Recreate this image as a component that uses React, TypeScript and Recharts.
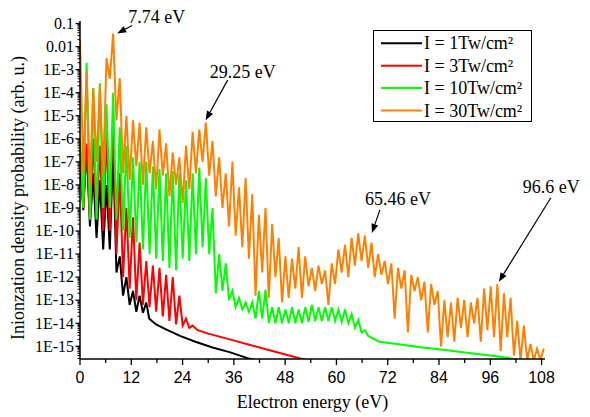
import { LineChart, Line, XAxis, YAxis, Legend, ReferenceDot } from 'recharts'

const serif = '"Liberation Serif", "Times New Roman", serif'
const sans = '"Liberation Sans", Arial, sans-serif'

// energy grid: half a photon period (1.55 eV / 2)
const energyStep = 0.775

// log10 of the probability, one value per grid point (peak, trough, peak, ...)
const blackLog = [
  -7.0, -9.1, -6.3, -9.8, -7.5, -10.3, -7.8, -10.8, -8.0, -10.8, -6.5, -11.8, -11.1, -12.8, -12.0, -13.2,
  -12.6, -13.5, -12.8, -13.55, -13.1,
]
const blackTail = [
  [16.2, -13.8], [17.8, -14.05], [20, -14.25], [23.4, -14.55], [27, -14.8], [31, -15.05], [35, -15.25],
  [39, -15.5], [41, -15.6],
]

const redLog = [
  -6.5, -9.0, -6.2, -9.5, -6.0, -9.5, -6.3, -10.0, -5.8, -10.0, -5.0, -11.0, -7.5, -12.0, -9.0, -12.5,
  -9.4, -13.0, -10.5, -13.2, -11.3, -13.3, -11.5, -13.5, -11.6, -13.7, -11.9, -13.9, -12.0, -14.05, -12.8,
  -14.1, -13.8, -14.2, -14.1,
]
const redTail = [
  [27.5, -14.3], [30, -14.45], [35, -14.7], [40, -14.95], [45, -15.2], [50, -15.45], [53, -15.6],
]

const greenLog = [
  -6.0, -9.0, -2.7, -9.5, -3.8, -9.5, -3.6, -9.0, -4.5, -9.0, -4.0, -9.5, -5.5, -10.0, -6.3, -10.3,
  -6.8, -10.5, -7.0, -10.8, -7.0, -11.0, -7.2, -11.2, -7.3, -11.3, -7.5, -11.6, -7.4, -11.7, -7.5, -11.2,
  -7.8, -11.3, -7.5, -11.0, -7.25, -10.7, -7.7, -11.0, -9.0, -12.7, -11.0, -12.6, -11.4, -13.0, -12.6,
  -13.3, -12.9, -13.4, -13.1, -13.5, -13.1, -13.8, -12.6, -13.8, -12.55, -14.0, -13.3, -14.0, -13.3, -14.0,
  -13.4, -14.0, -13.3, -14.0, -13.4, -14.0, -13.3, -13.95, -13.2, -13.9, -13.3, -13.9, -13.3, -13.9, -13.3,
  -13.9, -13.4, -13.95, -13.4, -14.0, -13.6, -14.2, -13.85, -14.4, -14.3, -14.55,
]
const greenTail = [
  [70, -14.8], [75, -14.92], [80, -15.05], [85, -15.15], [90, -15.27], [95, -15.38], [100, -15.5], [103, -15.6],
]

const orangeLog = [
  -1.7, -7.5, -3.07, -8.0, -3.8, -7.0, -3.7, -7.5, -2.5, -3.4, -1.43, -5.2, -3.37, -7.5, -5.0, -7.8,
  -5.2, -7.2, -5.3, -8.0, -5.5, -7.5, -6.1, -8.2, -5.6, -7.6, -6.2, -8.5, -6.6, -8.0, -6.8, -8.8,
  -6.3, -8.2, -5.7, -7.5, -5.6, -7.0, -5.3, -7.6, -6.1, -8.5, -6.8, -9.0, -7.5, -9.8, -7.0, -10.2,
  -8.1, -10.7, -7.7, -11.2, -8.4, -12.8, -9.3, -11.8, -9.0, -12.9, -9.7, -12.0, -10.3, -13.1, -11.1, -12.9,
  -11.2, -12.5, -10.7, -12.9, -11.1, -12.4, -11.6, -12.6, -11.5, -12.3, -11.7, -13.2, -11.4, -12.3, -10.8,
  -11.8, -10.6, -12.0, -10.3, -11.5, -10.1, -11.3, -10.2, -11.6, -10.5, -12.0, -11.0, -11.9, -11.3, -12.3,
  -11.4, -13.8, -11.6, -12.5, -11.7, -14.4, -11.9, -12.6, -12.0, -13.0, -12.2, -14.4, -12.3, -13.2, -12.6,
  -15.0, -13.0, -14.6, -13.1, -14.8, -12.9, -14.2, -13.0, -14.6, -13.1, -14.0, -12.9, -14.8, -12.5, -14.3,
  -12.4, -14.6, -12.3, -15.2, -12.7, -14.6, -12.9, -15.4, -13.9, -15.6, -14.1, -15.6, -14.9, -15.6, -15.1,
  -15.6, -15.1,
]

const series = [
  { name: 'I = 1Tw/cm²', color: '#000000', log: blackLog, tail: blackTail },
  { name: 'I = 3Tw/cm²', color: '#ff0000', log: redLog, tail: redTail },
  { name: 'I = 10Tw/cm²', color: '#00ff00', log: greenLog, tail: greenTail },
  { name: 'I = 30Tw/cm²', color: '#ff8000', log: orangeLog, tail: [] as number[][] },
]

const xTicks = [0, 12, 24, 36, 48, 60, 72, 84, 96, 108]
const yMajorTicks = [0.1, 0.01, 1e-3, 1e-4, 1e-5, 1e-6, 1e-7, 1e-8, 1e-9, 1e-10, 1e-11, 1e-12, 1e-13, 1e-14, 1e-15]
const yTickLabels = ['0.1', '0.01', '1E-3', '1E-4', '1E-5', '1E-6', '1E-7', '1E-8', '1E-9', '1E-10', '1E-11', '1E-12', '1E-13', '1E-14', '1E-15']

const annotations = [
  { label: '7.74 eV', x: 8.7, log: -1.43 },
  { label: '29.25 eV', x: 29.4, log: -5.19 },
  { label: '65.46 eV', x: 68.3, log: -10.08 },
  { label: '96.6 eV', x: 98.0, log: -12.2 },
]
// arrow tail and text offsets in px from the arrow tip
const annotationOffsets = [
  { tail: [15, -8], text: [11, -10] },
  { tail: [22, -40], text: [4, -42] },
  { tail: [8, -23], text: [-7, -28] },
  { tail: [52, -84], text: [24, -89] },
]

const yBottom = Math.pow(10, -15.55)
const yTop = Math.pow(10, -0.89)
const yMinorTicks = [...yMajorTicks, 1e-16]
  .flatMap((m) => [2, 3, 4, 5, 6, 7, 8, 9].map((k) => m * k))
  .filter((v) => v > yBottom && v < yTop)
const xMinorTicks = xTicks.map((t) => t + 6).filter((t) => t < 108.8)

const buildData = (log: number[], tail: number[][]) => [
  ...log.map((e, i) => ({ x: Math.round(i * energyStep * 1000) / 1000, y: Math.pow(10, e) })),
  ...tail.map(([x, e]) => ({ x, y: Math.pow(10, e) })),
]

function YTick(props: any) {
  const { x, y, payload } = props
  const v = payload.value
  const idx = yMajorTicks.findIndex((m) => Math.abs(Math.log10(m) - Math.log10(v)) < 1e-6)
  const ax = x + 8
  if (idx < 0) {
    return <line x1={ax - 2.5} x2={ax} y1={y} y2={y} stroke="#000" strokeWidth={1} />
  }
  return (
    <g>
      <line x1={ax - 4.5} x2={ax} y1={y} y2={y} stroke="#000" strokeWidth={1.3} />
      <text x={ax - 6} y={y} dy="0.33em" textAnchor="end" fontSize={16} fontFamily={serif} fill="#000">
        {yTickLabels[idx]}
      </text>
    </g>
  )
}

function XTick(props: any) {
  const { x, y, payload } = props
  const ay = y - 8
  const major = xTicks.includes(payload.value)
  return (
    <g>
      <line x1={x} x2={x} y1={ay} y2={ay + (major ? 6 : 4)} stroke="#000" strokeWidth={1.3} />
      {major && (
        <text x={x} y={ay + 24} textAnchor="middle" fontSize={16} fontFamily={sans} fill="#000">
          {payload.value}
        </text>
      )}
    </g>
  )
}

function LegendBox() {
  return (
    <svg width={160} height={93}>
      <rect x={0.5} y={0.5} width={158} height={91} fill="#fff" stroke="#000" strokeWidth={1} />
      {series.map((s, i) => {
        const cy = 13.3 + i * 22.4
        return (
          <g key={s.name}>
            <line x1={8} x2={49} y1={cy} y2={cy} stroke={s.color} strokeWidth={2} />
            <text x={51} y={cy + 6} fontSize={18} fontFamily={serif} fill="#000">
              {s.name}
            </text>
          </g>
        )
      })}
    </svg>
  )
}

function arrowShape(label: string, off: { tail: number[]; text: number[] }) {
  return (p: any) => {
    const { cx, cy } = p
    const tx = cx + off.tail[0]
    const ty = cy + off.tail[1]
    const len = Math.hypot(tx - cx, ty - cy)
    const ux = (tx - cx) / len
    const uy = (ty - cy) / len
    const hl = 9
    const hw = 3.5
    const bx = cx + ux * hl
    const by = cy + uy * hl
    const head = `${cx},${cy} ${bx - uy * hw},${by + ux * hw} ${bx + uy * hw},${by - ux * hw}`
    return (
      <g>
        <line x1={tx} y1={ty} x2={bx} y2={by} stroke="#000" strokeWidth={1.2} />
        <polygon points={head} fill="#000" />
        <text x={cx + off.text[0]} y={cy + off.text[1]} fontSize={18} fontFamily={serif} fill="#000">
          {label}
        </text>
      </g>
    )
  }
}

export default function App() {
  return (
    <LineChart width={574} height={409} margin={{ top: 13, right: 37, bottom: 0, left: 0 }}>
      <XAxis
        type="number"
        dataKey="x"
        domain={[0, 108.8]}
        ticks={[...xTicks, ...xMinorTicks]}
        interval={0}
        allowDataOverflow
        tickLine={false}
        tickSize={6}
        tickMargin={2}
        tick={XTick}
        height={58}
        stroke="#000"
        strokeWidth={1.5}
        label={(p: any) => (
          <text
            x={p.viewBox.x + p.viewBox.width / 2}
            y={p.viewBox.y + 49}
            textAnchor="middle"
            fontSize={18}
            fontFamily={serif}
            fill="#000"
          >
            Electron energy (eV)
          </text>
        )}
      />
      <YAxis
        type="number"
        scale="log"
        domain={[yBottom, yTop]}
        ticks={[...yMajorTicks, ...yMinorTicks]}
        interval={0}
        allowDataOverflow
        tickLine={false}
        tickSize={6}
        tickMargin={2}
        tick={YTick}
        width={72}
        stroke="#000"
        strokeWidth={1.5}
        label={(p: any) => {
          const lx = p.viewBox.x + 16
          const ly = p.viewBox.y + p.viewBox.height / 2 + 8
          return (
            <text
              x={lx}
              y={ly}
              transform={`rotate(-90 ${lx} ${ly})`}
              textAnchor="middle"
              fontSize={18}
              fontFamily={serif}
              fill="#000"
            >
              Inionzation density probability (arb. u.)
            </text>
          )
        }}
      />
      {series.map((s) => (
        <Line
          key={s.name}
          name={s.name}
          data={buildData(s.log, s.tail)}
          dataKey="y"
          type="linear"
          stroke={s.color}
          strokeWidth={2}
          dot={false}
          activeDot={false}
          isAnimationActive={false}
        />
      ))}
      {annotations.map((a, i) => (
        <ReferenceDot
          key={a.label}
          x={a.x}
          y={Math.pow(10, a.log)}
          r={0}
          shape={arrowShape(a.label, annotationOffsets[i])}
        />
      ))}
      <Legend
        content={LegendBox}
        layout="vertical"
        align="center"
        verticalAlign="middle"
        wrapperStyle={{ left: 364.7, top: 22, width: 160, height: 93 }}
      />
    </LineChart>
  )
}
